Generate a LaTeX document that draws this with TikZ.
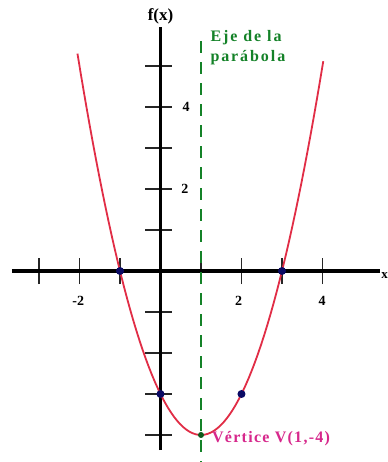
\documentclass[tikz,border=0pt]{standalone}
\usepackage{fontspec}
\setmainfont{Liberation Serif}
\definecolor{curvered}{RGB}{225,45,70}
\definecolor{axisgreen}{RGB}{20,130,40}
\definecolor{dotblue}{RGB}{10,10,100}
\definecolor{vmag}{RGB}{215,40,140}
\begin{document}
\begin{tikzpicture}[x=40.5pt,y=41pt,
  axisline/.style={line width=3.2pt,black},
  tickline/.style={line width=1.3pt,black!85},
  ticklab/.style={font=\bfseries\fontsize{14}{14}\selectfont,inner sep=0pt},
  dotpt/.style={circle,fill=dotblue,inner sep=0pt,minimum size=8pt},
  axisdash/.style={axisgreen,line width=2.6pt,dash pattern=on 12pt off 9pt}]
\useasboundingbox (-3.963,-4.659) rectangle (5.617,6.61);
\fill[white] (-3.963,-4.659) rectangle (5.617,6.61);
% ticks on x
\foreach \t in {-3,-2,-1,1,2,3,4}
  \draw[tickline] (\t,-0.32) -- (\t,0.32);
% ticks on y
\foreach \t in {-4,-3,-2,-1,1,2,3,4,5}
  \draw[tickline] (-0.38,\t) -- (0.28,\t);
% axes
\coordinate (xl) at (-3.67,0);
\coordinate (xr) at (5.42,0);
\coordinate (yb) at (0,-4.37);
\coordinate (yt) at (0,5.95);
\draw[axisline] (xl) -- (xr);
\draw[axisline] (yb) -- (yt);
\node[font=\bfseries\fontsize{17}{17}\selectfont,inner sep=0pt] (fx) at (0.0,6.22) {f(x)};
\node[font=\bfseries\fontsize{13}{13}\selectfont,anchor=south east,inner sep=0pt] (xlab) at (5.617,-0.2) {x};
% tick labels
\node[ticklab] (lm2) at (-2.03,-0.73) {-2};
\node[ticklab] (l2) at (1.93,-0.73) {2};
\node[ticklab] (l4) at (3.99,-0.73) {4};
\node[ticklab] (ly4) at (0.63,4.0) {4};
\node[ticklab] (ly2) at (0.6,2.0) {2};
% axis of symmetry
\coordinate (at) at (1,5.6);
\coordinate (ab) at (1,-4.66);
\draw[axisdash] (at) -- (ab);
\node[axisgreen,font=\bfseries\fontsize{16}{20}\selectfont\addfontfeatures{LetterSpace=12},anchor=north west,align=left,inner sep=0pt] (eje) at (1.23,5.87) {Eje de la\\parábola};
% parabola
\draw[curvered,line width=1.8pt,domain=-2.05:4.02,samples=80] plot (\x,{(\x-1)^2-4});
% points
\node[dotpt] (p1) at (-1,0) {};
\node[dotpt] (p2) at (3,0) {};
\node[dotpt] (p3) at (0,-3) {};
\node[dotpt] (p4) at (2,-3) {};
\node[circle,fill=axisgreen!70!black,inner sep=0pt,minimum size=6pt] (v) at (1,-4) {};
\node[vmag,font=\bfseries\fontsize{16}{16}\selectfont\addfontfeatures{LetterSpace=8},anchor=west,inner sep=0pt] (vl) at (1.27,-4.1) {Vértice V(1,-4)};
\end{tikzpicture}
\end{document}
